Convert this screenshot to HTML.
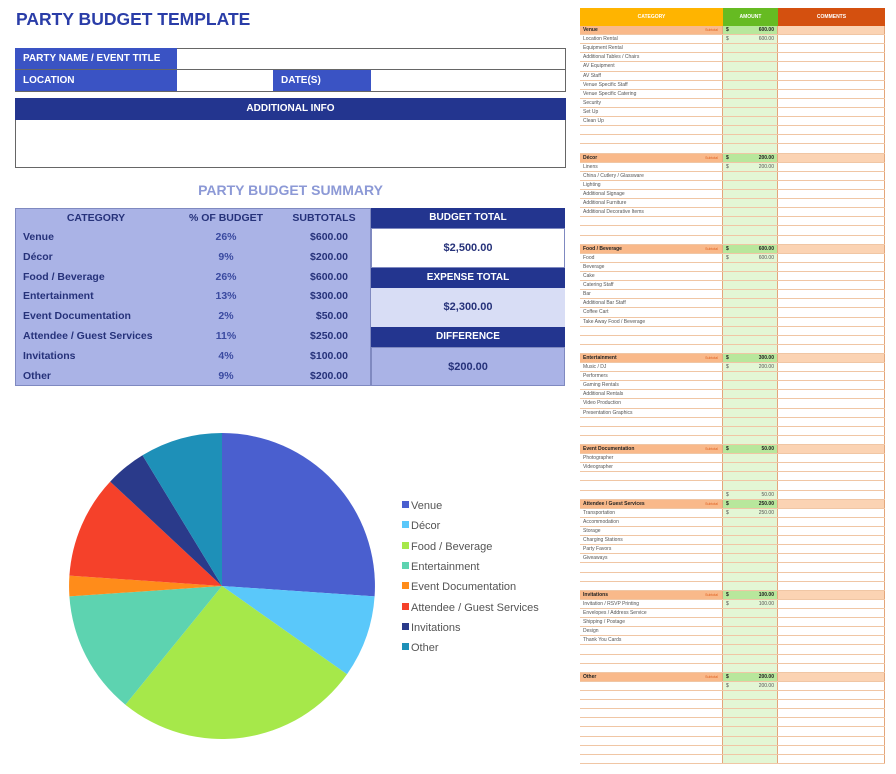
<!DOCTYPE html><html><head><meta charset="utf-8"><style>
*{margin:0;padding:0;box-sizing:border-box}
i,em{font-style:normal}
body{width:896px;height:774px;background:#fff;position:relative;overflow:hidden;font-family:"Liberation Sans",sans-serif}
.a{position:absolute}
.t{color:#2a3da8;font-weight:bold;font-size:17.5px;left:16px;top:9px}
.lb{background:#3a53c4;color:#fff;font-size:10px;font-weight:bold;padding-left:8px;line-height:21px}
.hd{background:#23358f;color:#fff;font-size:10px;font-weight:bold;text-align:center}
.sum{left:15px;top:208px;width:356px;height:178px;background:#aab3e6;border:1px solid #7f89c0}
.sum div{position:absolute;font-size:10.5px;font-weight:bold;color:#26327a}
#rt{left:580px;top:8px;width:305px}
.h{display:flex;height:18px;font-size:5px;color:#fff;font-weight:bold;text-align:center;line-height:18px}
.r,.s{display:flex;height:9.12px;font-size:5px;line-height:9px;color:#555;border-bottom:1px solid #f0c6a4}
.r>*,.s>*{display:block;border-right:1px solid #e4a67a}
.c1{width:143px;padding-left:3px;white-space:nowrap;overflow:hidden}
.c2{width:55px;background:#e3f6d5;padding:0 3px;display:flex;justify-content:space-between}
.c3{width:107px}
.s .c1{background:#f9b98a;color:#222;font-weight:bold;display:flex;justify-content:space-between;padding-right:4px}
.s .c1 em{font-weight:normal;color:#e06020;font-size:3.5px}
.s .c2{background:#b8e79c;font-weight:bold;color:#222}
.s .c3{background:#fbd3b3}
</style></head><body>
<div class="a t">PARTY BUDGET TEMPLATE</div>
<div class="a" style="left:15px;top:48px;width:551px;height:44px;border:1px solid #666"></div>
<div class="a lb" style="left:15px;top:48px;width:162px;height:22px">PARTY NAME / EVENT TITLE</div>
<div class="a lb" style="left:15px;top:70px;width:162px;height:21px">LOCATION</div>
<div class="a lb" style="left:273px;top:70px;width:98px;height:21px">DATE(S)</div>
<div class="a" style="left:15px;top:69px;width:551px;height:1px;background:#666"></div>
<div class="a hd" style="left:15px;top:98px;width:551px;height:22px;line-height:22px">ADDITIONAL INFO</div>
<div class="a" style="left:15px;top:120px;width:551px;height:48px;border:1px solid #666;border-top:none"></div>
<div class="a" style="left:15px;top:182px;width:551px;text-align:center;color:#8c99d6;font-weight:bold;font-size:14px">PARTY BUDGET SUMMARY</div>
<div class="a sum">
<div style="left:0;width:160px;top:3px;text-align:center">CATEGORY</div>
<div style="left:165px;width:90px;top:3px;text-align:center">% OF BUDGET</div>
<div style="left:268px;width:80px;top:3px;text-align:center">SUBTOTALS</div>
<div style="left:7px;top:19px;line-height:19.8px">Venue<br>Décor<br>Food / Beverage<br>Entertainment<br>Event Documentation<br>Attendee / Guest Services<br>Invitations<br>Other</div>
<div style="left:180px;width:60px;top:19px;line-height:19.8px;text-align:center;color:#3a4aa0">26%<br>9%<br>26%<br>13%<br>2%<br>11%<br>4%<br>9%</div>
<div style="left:250px;width:82px;top:19px;line-height:19.8px;text-align:right">$600.00<br>$200.00<br>$600.00<br>$300.00<br>$50.00<br>$250.00<br>$100.00<br>$200.00</div>
</div>
<div class="a hd" style="left:371px;top:208px;width:194px;height:20px;line-height:20px">BUDGET TOTAL</div>
<div class="a" style="left:371px;top:228px;width:194px;height:40px;background:#fff;border:1px solid #7f89c0;text-align:center;line-height:38px;font-size:11px;font-weight:bold;color:#26327a">$2,500.00</div>
<div class="a hd" style="left:371px;top:268px;width:194px;height:20px;line-height:20px">EXPENSE TOTAL</div>
<div class="a" style="left:371px;top:288px;width:194px;height:39px;background:#d8ddf5;text-align:center;line-height:39px;font-size:11px;font-weight:bold;color:#26327a">$2,300.00</div>
<div class="a hd" style="left:371px;top:327px;width:194px;height:20px;line-height:20px">DIFFERENCE</div>
<div class="a" style="left:371px;top:347px;width:194px;height:39px;background:#aab3e6;border:1px solid #7f89c0;text-align:center;line-height:39px;font-size:11px;font-weight:bold;color:#26327a">$200.00</div>

<svg class="a" style="left:0;top:0" width="580" height="774">
<path d="M222 586L222 433A153 153 0 0 1 374.6 596.4Z" fill="#4a5fcf"/>
<path d="M222 586L374.6 596.4A153 153 0 0 1 347 674.2Z" fill="#5ac8fa"/>
<path d="M222 586L347 674.2A153 153 0 0 1 125.4 704.7Z" fill="#a6e84a"/>
<path d="M222 586L125.4 704.7A153 153 0 0 1 69.4 596.4Z" fill="#5dd3b0"/>
<path d="M222 586L69.4 596.4A153 153 0 0 1 69.4 575.6Z" fill="#ff8c1a"/>
<path d="M222 586L69.4 575.6A153 153 0 0 1 110.2 481.6Z" fill="#f5412a"/>
<path d="M222 586L110.2 481.6A153 153 0 0 1 142.5 455.3Z" fill="#2a3a8a"/>
<path d="M222 586L142.5 455.3A153 153 0 0 1 222 433Z" fill="#1e90b8"/>
<g font-family="Liberation Sans,sans-serif" font-size="11" fill="#555">
<rect x="402" y="501" width="7" height="7" fill="#4a5fcf"/><text x="411" y="509">Venue</text>
<rect x="402" y="521" width="7" height="7" fill="#5ac8fa"/><text x="411" y="529">Décor</text>
<rect x="402" y="542" width="7" height="7" fill="#a6e84a"/><text x="411" y="550">Food / Beverage</text>
<rect x="402" y="562" width="7" height="7" fill="#5dd3b0"/><text x="411" y="570">Entertainment</text>
<rect x="402" y="582" width="7" height="7" fill="#ff8c1a"/><text x="411" y="590">Event Documentation</text>
<rect x="402" y="603" width="7" height="7" fill="#f5412a"/><text x="411" y="611">Attendee / Guest Services</text>
<rect x="402" y="623" width="7" height="7" fill="#2a3a8a"/><text x="411" y="631">Invitations</text>
<rect x="402" y="643" width="7" height="7" fill="#1e90b8"/><text x="411" y="651">Other</text>
</g></svg>

<div class="a" id="rt">
<div class="h"><div style="width:143px;background:#ffb400">CATEGORY</div><div style="width:55px;background:#66bb22">AMOUNT</div><div style="width:107px;background:#d4500f">COMMENTS</div></div>
<div class="s"><i class="c1">Venue<em>Subtotal</em></i><b class="c2"><span>$</span><span>600.00</span></b><i class="c3"></i></div>
<div class="r"><i class="c1">Location Rental</i><i class="c2"><span>$</span><span>600.00</span></i><i class="c3"></i></div>
<div class="r"><i class="c1">Equipment Rental</i><i class="c2"></i><i class="c3"></i></div>
<div class="r"><i class="c1">Additional Tables / Chairs</i><i class="c2"></i><i class="c3"></i></div>
<div class="r"><i class="c1">AV Equipment</i><i class="c2"></i><i class="c3"></i></div>
<div class="r"><i class="c1">AV Staff</i><i class="c2"></i><i class="c3"></i></div>
<div class="r"><i class="c1">Venue Specific Staff</i><i class="c2"></i><i class="c3"></i></div>
<div class="r"><i class="c1">Venue Specific Catering</i><i class="c2"></i><i class="c3"></i></div>
<div class="r"><i class="c1">Security</i><i class="c2"></i><i class="c3"></i></div>
<div class="r"><i class="c1">Set Up</i><i class="c2"></i><i class="c3"></i></div>
<div class="r"><i class="c1">Clean Up</i><i class="c2"></i><i class="c3"></i></div>
<div class="r"><i class="c1"></i><i class="c2"></i><i class="c3"></i></div>
<div class="r"><i class="c1"></i><i class="c2"></i><i class="c3"></i></div>
<div class="r"><i class="c1"></i><i class="c2"></i><i class="c3"></i></div>
<div class="s"><i class="c1">Décor<em>Subtotal</em></i><b class="c2"><span>$</span><span>200.00</span></b><i class="c3"></i></div>
<div class="r"><i class="c1">Linens</i><i class="c2"><span>$</span><span>200.00</span></i><i class="c3"></i></div>
<div class="r"><i class="c1">China / Cutlery / Glassware</i><i class="c2"></i><i class="c3"></i></div>
<div class="r"><i class="c1">Lighting</i><i class="c2"></i><i class="c3"></i></div>
<div class="r"><i class="c1">Additional Signage</i><i class="c2"></i><i class="c3"></i></div>
<div class="r"><i class="c1">Additional Furniture</i><i class="c2"></i><i class="c3"></i></div>
<div class="r"><i class="c1">Additional Decorative Items</i><i class="c2"></i><i class="c3"></i></div>
<div class="r"><i class="c1"></i><i class="c2"></i><i class="c3"></i></div>
<div class="r"><i class="c1"></i><i class="c2"></i><i class="c3"></i></div>
<div class="r"><i class="c1"></i><i class="c2"></i><i class="c3"></i></div>
<div class="s"><i class="c1">Food / Beverage<em>Subtotal</em></i><b class="c2"><span>$</span><span>600.00</span></b><i class="c3"></i></div>
<div class="r"><i class="c1">Food</i><i class="c2"><span>$</span><span>600.00</span></i><i class="c3"></i></div>
<div class="r"><i class="c1">Beverage</i><i class="c2"></i><i class="c3"></i></div>
<div class="r"><i class="c1">Cake</i><i class="c2"></i><i class="c3"></i></div>
<div class="r"><i class="c1">Catering Staff</i><i class="c2"></i><i class="c3"></i></div>
<div class="r"><i class="c1">Bar</i><i class="c2"></i><i class="c3"></i></div>
<div class="r"><i class="c1">Additional Bar Staff</i><i class="c2"></i><i class="c3"></i></div>
<div class="r"><i class="c1">Coffee Cart</i><i class="c2"></i><i class="c3"></i></div>
<div class="r"><i class="c1">Take Away Food / Beverage</i><i class="c2"></i><i class="c3"></i></div>
<div class="r"><i class="c1"></i><i class="c2"></i><i class="c3"></i></div>
<div class="r"><i class="c1"></i><i class="c2"></i><i class="c3"></i></div>
<div class="r"><i class="c1"></i><i class="c2"></i><i class="c3"></i></div>
<div class="s"><i class="c1">Entertainment<em>Subtotal</em></i><b class="c2"><span>$</span><span>300.00</span></b><i class="c3"></i></div>
<div class="r"><i class="c1">Music / DJ</i><i class="c2"><span>$</span><span>200.00</span></i><i class="c3"></i></div>
<div class="r"><i class="c1">Performers</i><i class="c2"></i><i class="c3"></i></div>
<div class="r"><i class="c1">Gaming Rentals</i><i class="c2"></i><i class="c3"></i></div>
<div class="r"><i class="c1">Additional Rentals</i><i class="c2"></i><i class="c3"></i></div>
<div class="r"><i class="c1">Video Production</i><i class="c2"></i><i class="c3"></i></div>
<div class="r"><i class="c1">Presentation Graphics</i><i class="c2"></i><i class="c3"></i></div>
<div class="r"><i class="c1"></i><i class="c2"></i><i class="c3"></i></div>
<div class="r"><i class="c1"></i><i class="c2"></i><i class="c3"></i></div>
<div class="r"><i class="c1"></i><i class="c2"></i><i class="c3"></i></div>
<div class="s"><i class="c1">Event Documentation<em>Subtotal</em></i><b class="c2"><span>$</span><span>50.00</span></b><i class="c3"></i></div>
<div class="r"><i class="c1">Photographer</i><i class="c2"></i><i class="c3"></i></div>
<div class="r"><i class="c1">Videographer</i><i class="c2"></i><i class="c3"></i></div>
<div class="r"><i class="c1"></i><i class="c2"></i><i class="c3"></i></div>
<div class="r"><i class="c1"></i><i class="c2"></i><i class="c3"></i></div>
<div class="r"><i class="c1"></i><i class="c2"><span>$</span><span>50.00</span></i><i class="c3"></i></div>
<div class="s"><i class="c1">Attendee / Guest Services<em>Subtotal</em></i><b class="c2"><span>$</span><span>250.00</span></b><i class="c3"></i></div>
<div class="r"><i class="c1">Transportation</i><i class="c2"><span>$</span><span>250.00</span></i><i class="c3"></i></div>
<div class="r"><i class="c1">Accommodation</i><i class="c2"></i><i class="c3"></i></div>
<div class="r"><i class="c1">Storage</i><i class="c2"></i><i class="c3"></i></div>
<div class="r"><i class="c1">Charging Stations</i><i class="c2"></i><i class="c3"></i></div>
<div class="r"><i class="c1">Party Favors</i><i class="c2"></i><i class="c3"></i></div>
<div class="r"><i class="c1">Giveaways</i><i class="c2"></i><i class="c3"></i></div>
<div class="r"><i class="c1"></i><i class="c2"></i><i class="c3"></i></div>
<div class="r"><i class="c1"></i><i class="c2"></i><i class="c3"></i></div>
<div class="r"><i class="c1"></i><i class="c2"></i><i class="c3"></i></div>
<div class="s"><i class="c1">Invitations<em>Subtotal</em></i><b class="c2"><span>$</span><span>100.00</span></b><i class="c3"></i></div>
<div class="r"><i class="c1">Invitation / RSVP Printing</i><i class="c2"><span>$</span><span>100.00</span></i><i class="c3"></i></div>
<div class="r"><i class="c1">Envelopes / Address Service</i><i class="c2"></i><i class="c3"></i></div>
<div class="r"><i class="c1">Shipping / Postage</i><i class="c2"></i><i class="c3"></i></div>
<div class="r"><i class="c1">Design</i><i class="c2"></i><i class="c3"></i></div>
<div class="r"><i class="c1">Thank You Cards</i><i class="c2"></i><i class="c3"></i></div>
<div class="r"><i class="c1"></i><i class="c2"></i><i class="c3"></i></div>
<div class="r"><i class="c1"></i><i class="c2"></i><i class="c3"></i></div>
<div class="r"><i class="c1"></i><i class="c2"></i><i class="c3"></i></div>
<div class="s"><i class="c1">Other<em>Subtotal</em></i><b class="c2"><span>$</span><span>200.00</span></b><i class="c3"></i></div>
<div class="r"><i class="c1"></i><i class="c2"><span>$</span><span>200.00</span></i><i class="c3"></i></div>
<div class="r"><i class="c1"></i><i class="c2"></i><i class="c3"></i></div>
<div class="r"><i class="c1"></i><i class="c2"></i><i class="c3"></i></div>
<div class="r"><i class="c1"></i><i class="c2"></i><i class="c3"></i></div>
<div class="r"><i class="c1"></i><i class="c2"></i><i class="c3"></i></div>
<div class="r"><i class="c1"></i><i class="c2"></i><i class="c3"></i></div>
<div class="r"><i class="c1"></i><i class="c2"></i><i class="c3"></i></div>
<div class="r"><i class="c1"></i><i class="c2"></i><i class="c3"></i></div>
<div class="r"><i class="c1"></i><i class="c2"></i><i class="c3"></i></div>
</div>
</body></html>
